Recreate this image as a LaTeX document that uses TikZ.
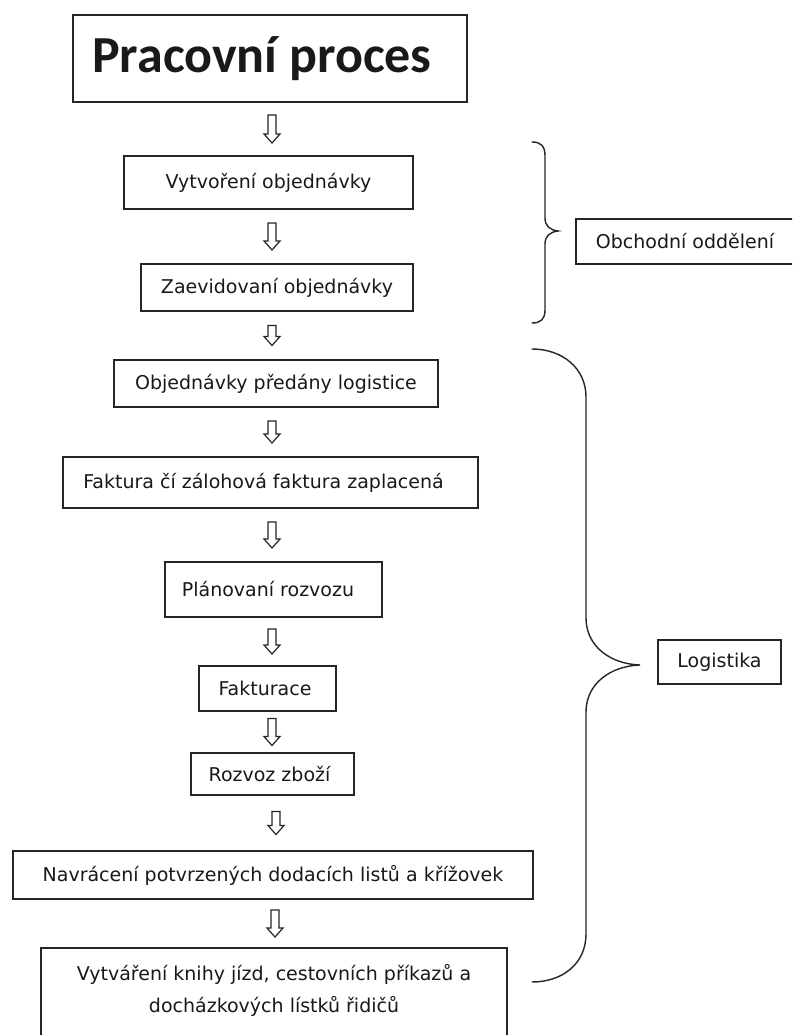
\documentclass[tikz,border=0pt]{standalone}
\usepackage{fontspec}
\setmainfont{DejaVu Sans}
\newfontfamily\bodyfont{DejaVu Sans}
\newfontfamily\titlefont{Carlito}
\usetikzlibrary{calc}
\tikzset{
  box/.style={draw=black!85, line width=1.2pt, inner sep=0pt, fill=white,
    font=\bodyfont\fontsize{19}{23}\selectfont, text=black!90},
  brace/.style={draw=black!85, line width=1.4pt, line cap=round},
  arrowline/.style={draw=black!85, line width=1.2pt, fill=white, line join=miter},
  pics/hdown/.style={code={
    \draw[arrowline] (-4,-#1/2) -- (4,-#1/2) -- (4,#1/2-9) -- (8,#1/2-9) -- (0,#1/2)
      -- (-8,#1/2-9) -- (-4,#1/2-9) -- cycle;}}
}
\begin{document}
\begin{tikzpicture}[x=1pt,y=-1pt]
\useasboundingbox (0,0) rectangle (792,1035);
\fill[white] (0,0) rectangle (792,1035);
\clip (0,0) rectangle (792,1035);

% main column
\node[box, minimum width=394, minimum height=87,
  font=\titlefont\bfseries\fontsize{52}{60}\selectfont] (title) at (270,58.5) {Pracovní proces\hspace*{16pt}};
\node[box, minimum width=289, minimum height=53] (b1) at (268.5,182.5) {Vytvoření objednávky};
\node[box, minimum width=272, minimum height=47] (b2) at (277,287.5) {Zaevidovaní objednávky};
\node[box, minimum width=324, minimum height=47] (b3) at (276,383.5) {Objednávky předány logistice};
\node[box, minimum width=415, minimum height=51] (b4) at (270.5,482.5) {Faktura čí zálohová faktura zaplacená\hspace*{14pt}};
\node[box, minimum width=217, minimum height=55] (b5) at (273.5,589.5) {Plánovaní rozvozu\hspace*{11pt}};
\node[box, minimum width=137, minimum height=45] (b6) at (267.5,688.5) {Fakturace\hspace*{5pt}};
\node[box, minimum width=163, minimum height=42] (b7) at (272.5,774) {Rozvoz zboží\hspace*{6pt}};
\node[box, minimum width=520, minimum height=48] (b8) at (273,875) {Navrácení potvrzených dodacích listů a křížovek};
\node[box, minimum width=466, minimum height=92, align=center] (b9) at (274,994)
  {Vytváření knihy jízd, cestovních příkazů a\\[9pt] docházkových lístků řidičů\\[-12pt]};

% side labels
\node[box, minimum width=230, minimum height=45] (obch) at (691,241.5) {Obchodní oddělení\hspace*{12pt}};
\node[box, minimum width=123, minimum height=44] (logi) at (719.5,662) {Logistika};

% hollow arrows between steps
\coordinate (axis) at (272,0);
\coordinate (m0) at ($(title.south)!0.5!(b1.north)$);
\coordinate (m1) at ($(b1.south)!0.5!(b2.north)$);
\coordinate (m2) at ($(b2.south)!0.5!(b3.north)$);
\coordinate (m3) at ($(b3.south)!0.5!(b4.north)$);
\coordinate (m4) at ($(b4.south)!0.5!(b5.north)$);
\coordinate (m5) at ($(b5.south)!0.5!(b6.north)$);
\coordinate (m6) at ($(b6.south)!0.5!(b7.north)$);
\coordinate (m7) at ($(b7.south)!0.5!(b8.north)$);
\coordinate (m8) at ($(b8.south)!0.5!(b9.north)$);
\pic at (m0 -| axis) {hdown=28};
\pic at (m1 -| axis) {hdown=27};
\pic at (m2 -| axis) {hdown=20};
\pic at (m3 -| axis) {hdown=22};
\pic at (m4 -| axis) {hdown=26};
\pic at (m5 -| axis) {hdown=25};
\pic at (m6 -| axis) {hdown=27};
\pic at ([xshift=4pt]m7 -| axis) {hdown=23};
\pic at ([xshift=3pt]m8 -| axis) {hdown=27};

% braces
\draw[brace] (532,142) .. controls (541,142) and (545,146) .. (545,156)
  -- (545,218) .. controls (545,226) and (550,230) .. (558,231)
  .. controls (550,232) and (545,236) .. (545,244)
  -- (545,310) .. controls (545,319) and (541,323) .. (532,323);
\draw[brace] (532,349) .. controls (562,349) and (586,368) .. (586,397)
  -- (586,618) .. controls (586,646) and (610,664) .. (640,665)
  .. controls (610,666) and (586,684) .. (586,712)
  -- (586,934) .. controls (586,964) and (562,982) .. (532,982);
\end{tikzpicture}
\end{document}
